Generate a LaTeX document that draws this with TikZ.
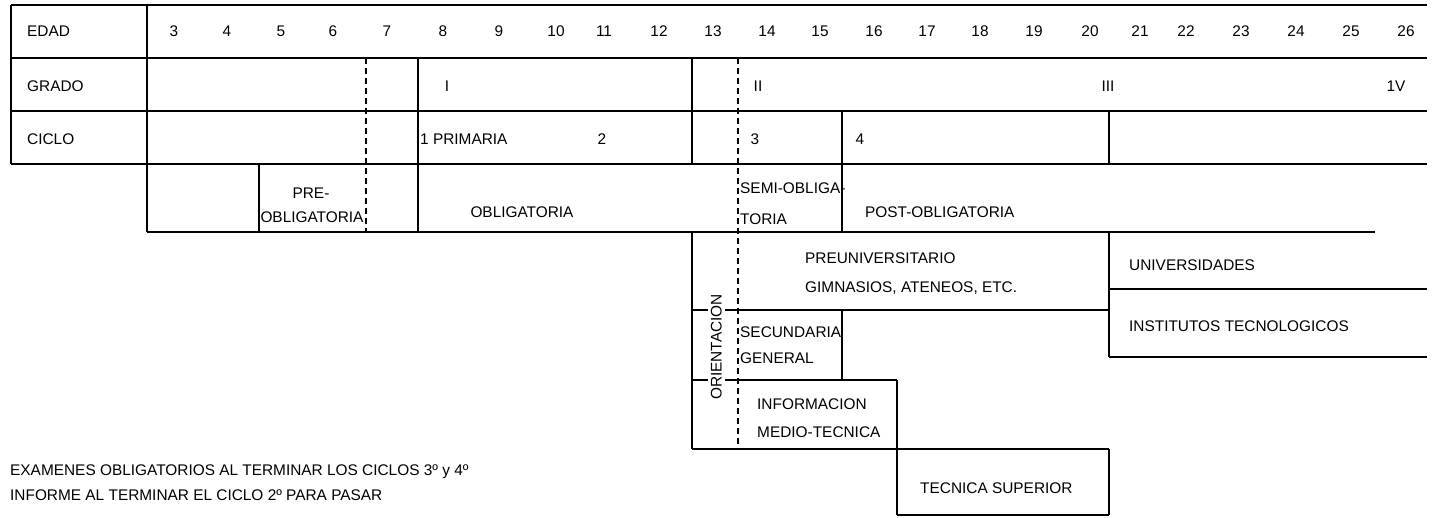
\documentclass[tikz,border=0pt]{standalone}
\usepackage{fontspec}
\setmainfont{Liberation Sans}
\newcommand\dfont{\fontsize{15.4}{18}\selectfont}
\begin{document}
\begin{tikzpicture}[x=1pt,y=-1pt,
  ln/.style={line width=1.4pt},
  dl/.style={line width=1.3pt,dash pattern=on 6pt off 4pt},
  lab/.style={anchor=west,inner sep=0pt,font=\dfont,text height=11pt,text depth=0pt},
  num/.style={inner sep=0pt,font=\dfont,text height=11pt,text depth=0pt},
]
\useasboundingbox[fill=white] (0,0) rectangle (1437,517);
% ---- top table ----
\draw[ln] (11,5) -- (1427,5);
\draw[ln] (11,5) -- (11,164);
\draw[ln] (11,58) -- (1427,58);
\draw[ln] (11,111) -- (1427,111);
\draw[ln] (11,164) -- (1427,164);
\draw[ln] (147,5) -- (147,232);
\draw[ln] (147,232) -- (1375,232);
\draw[ln] (259,164) -- (259,232);
\draw[dl] (366,58) -- (366,232);
\draw[ln] (418,58) -- (418,232);
\draw[ln] (692,58) -- (692,164);
\draw[ln] (692,232) -- (692,449);
\draw[dl] (738,58) -- (738,449);
\draw[ln] (842,111) -- (842,232);
\draw[ln] (1109,111) -- (1109,164);
% ---- lower part ----
\draw[ln] (1109,232) -- (1109,357);
\draw[ln] (692,310) -- (1109,310);
\draw[ln] (842,310) -- (842,380);
\draw[ln] (692,380) -- (897,380);
\draw[ln] (692,449) -- (1109,449);
\draw[ln] (897,380) -- (897,515);
\draw[ln] (1109,449) -- (1109,515);
\draw[ln] (897,515) -- (1109,515);
\draw[ln] (1109,289) -- (1427,289);
\draw[ln] (1109,357) -- (1427,357);
% ---- row labels ----
\node[lab] (edad) at (27,31) {EDAD};
\node[lab] (grado) at (27,86) {GRADO};
\node[lab] (ciclo) at (27,139) {CICLO};
% ---- ages ----
\foreach \a/\x in {3/174,4/227,5/281,6/333,7/387,8/443,9/499,10/556,11/604,12/659,13/713,14/767,15/820,16/874,17/927,18/980,19/1034,20/1090,21/1140,22/1186,23/1241,24/1296,25/1351,26/1406}
  \node[num] (age\a) at (\x,31) {\a};
% ---- grado ----
\node[num] (g1) at (447,86) {I};
\node[num] (g2) at (758,86) {II};
\node[num] (g3) at (1108,86) {III};
\node[num] (g4) at (1396,86) {1V};
% ---- ciclo ----
\node[lab] (c1) at (420,139) {1 PRIMARIA};
\node[num] (c2) at (602,139) {2};
\node[num] (c3) at (755,139) {3};
\node[num] (c4) at (860,139) {4};
% ---- row 4 ----
\node[num] (pre1) at (311,193) {PRE-};
\node[num] (pre2) at (312,217) {OBLIGATORIA};
\node[num] (obl) at (522,212) {OBLIGATORIA};
\node[lab] (semi1) at (740,188) {SEMI-OBLIGA-};
\node[lab] (semi2) at (740,219) {TORIA};
\node[lab] (post) at (865,212) {POST-OBLIGATORIA};
% ---- lower texts ----
\node[lab] (preu1) at (805,258) {PREUNIVERSITARIO};
\node[lab] (preu2) at (805,287) {GIMNASIOS, ATENEOS, ETC.};
\node[lab] (univ) at (1129,265) {UNIVERSIDADES};
\node[lab] (inst) at (1129,326) {INSTITUTOS TECNOLOGICOS};
\node[lab] (sec1) at (740,332) {SECUNDARIA};
\node[lab] (sec2) at (740,358) {GENERAL};
\node[lab] (inf1) at (757,404) {INFORMACION};
\node[lab] (inf2) at (757,432) {MEDIO-TECNICA};
\node[lab] (tec) at (920,488) {TECNICA SUPERIOR};
\node[num,rotate=90,fill=white,inner xsep=0pt,inner ysep=3pt] (ori) at (716,347) {ORIENTACION};
% ---- notes ----
\node[lab] (n1) at (10,470) {EXAMENES OBLIGATORIOS AL TERMINAR LOS CICLOS 3º y 4º};
\node[lab] (n2) at (10,495) {INFORME AL TERMINAR EL CICLO 2º PARA PASAR};
\end{tikzpicture}
\end{document}
